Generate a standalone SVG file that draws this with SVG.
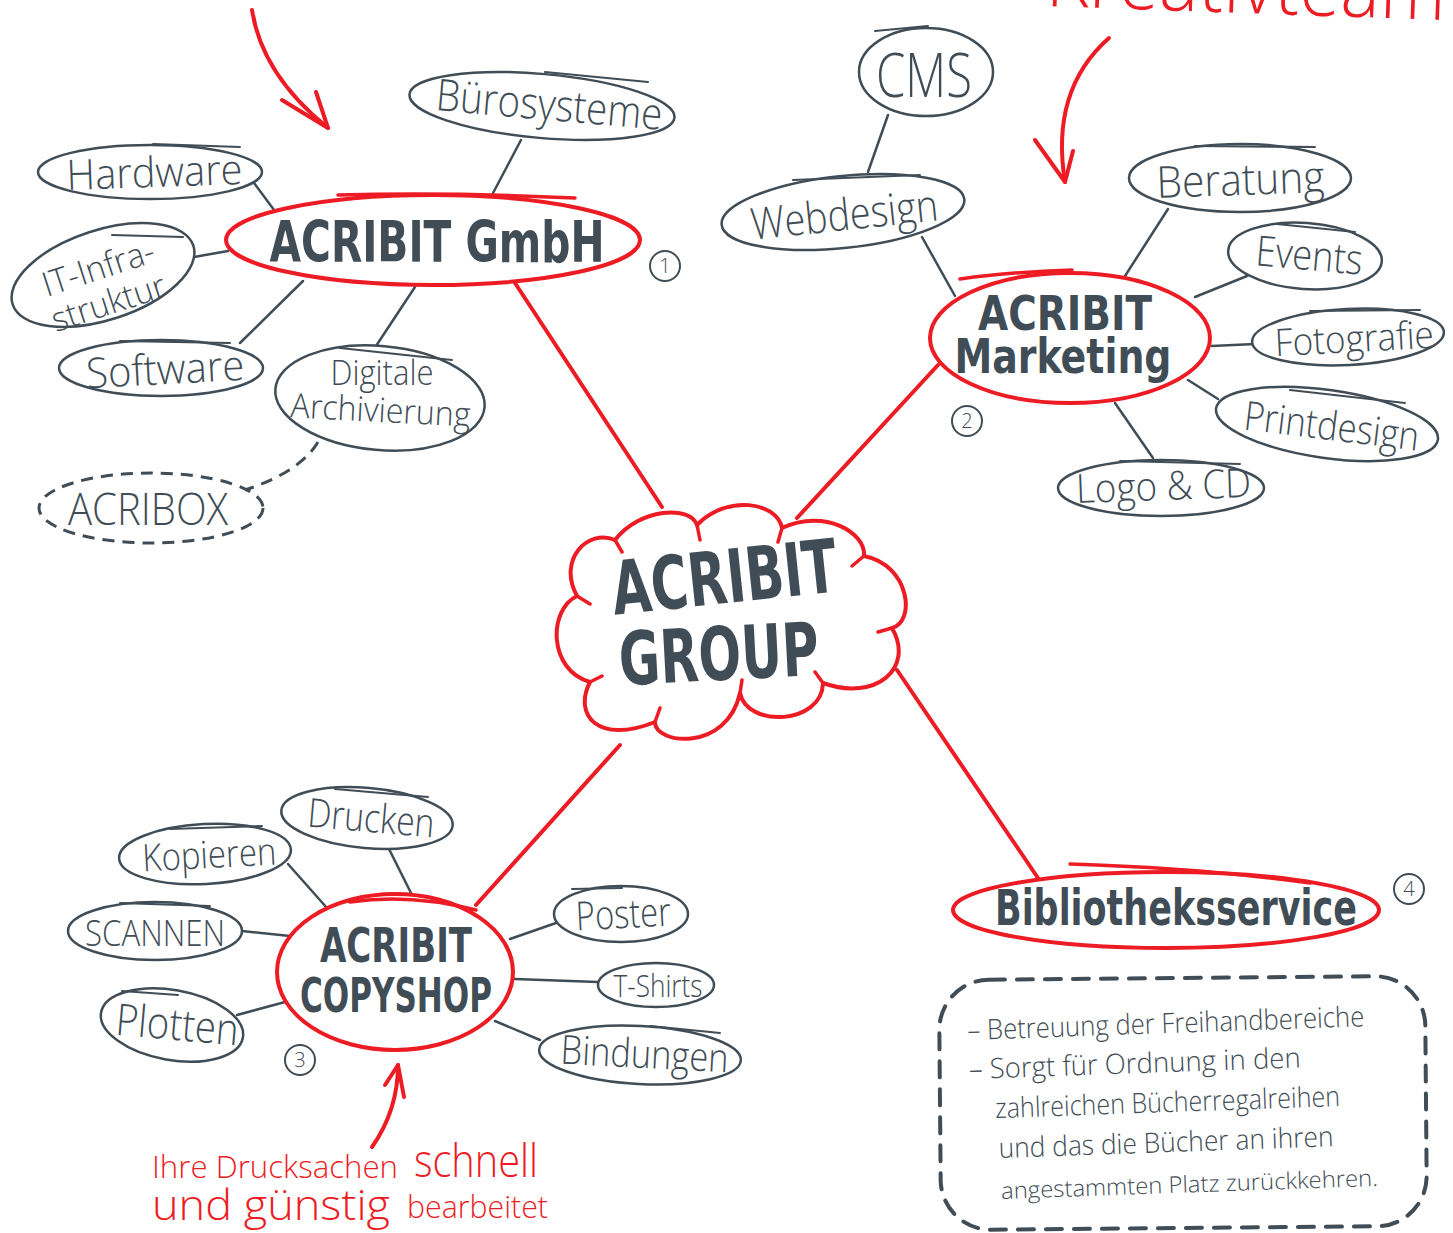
<svg xmlns="http://www.w3.org/2000/svg" width="1453" height="1233" viewBox="0 0 1453 1233">
<defs>
<style>
.bg{fill:#ffffff}
.lbl{font-family:"Open Sans","DejaVu Sans Condensed","Liberation Sans",sans-serif;font-weight:300;fill:#414d56;text-anchor:middle}
.bold{font-family:"Liberation Sans Narrow","DejaVu Sans Condensed","Liberation Sans",sans-serif;font-weight:bold;fill:#414d56;text-anchor:middle}
.red{font-family:"Open Sans","DejaVu Sans Condensed","Liberation Sans",sans-serif;font-weight:300;fill:#ed1c24}
.box{fill:#ffffff;stroke:#414d56;stroke-width:2.5}
.dash{fill:none;stroke:#414d56;stroke-width:3;stroke-dasharray:12 8}
.rbox{fill:#ffffff;stroke:#ed1c24;stroke-width:4}
.ln{fill:none;stroke:#414d56;stroke-width:2.5;stroke-linecap:round}
.rln{fill:none;stroke:#ed1c24;stroke-width:4;stroke-linecap:round}
.arr{fill:none;stroke:#ed1c24;stroke-width:4;stroke-linecap:round;stroke-linejoin:round}
.num{fill:none;stroke:#414d56;stroke-width:2}
.numt{font-family:"Open Sans","DejaVu Sans Condensed",sans-serif;font-weight:300;font-size:20px;fill:#414d56;text-anchor:middle}
.sk{fill:none;stroke:#414d56;stroke-width:2;stroke-linecap:round}
.rsk{fill:none;stroke:#ed1c24;stroke-width:3.5;stroke-linecap:round}
</style>
</defs>
<rect class="bg" x="0" y="0" width="1453" height="1233"/>

<g id="connectors">
  <line class="rln" x1="515" y1="283" x2="662" y2="507"/>
  <line class="rln" x1="938" y1="365" x2="797" y2="518"/>
  <line class="rln" x1="476" y1="905" x2="620" y2="745"/>
  <line class="rln" x1="897" y1="670" x2="1038" y2="878"/>
  <line class="ln" x1="521" y1="140" x2="492" y2="195"/>
  <line class="ln" x1="254" y1="183" x2="280" y2="218"/>
  <line class="ln" x1="194" y1="257" x2="228" y2="251"/>
  <line class="ln" x1="240" y1="343" x2="303" y2="281"/>
  <line class="ln" x1="376" y1="346" x2="415" y2="287"/>
  <path class="dash" d="M318,442 Q300,472 245,490"/>
  <line class="ln" x1="888" y1="115" x2="868" y2="172"/>
  <line class="ln" x1="922" y1="237" x2="955" y2="296"/>
  <line class="ln" x1="1168" y1="209" x2="1125" y2="276"/>
  <line class="ln" x1="1247" y1="276" x2="1195" y2="297"/>
  <line class="ln" x1="1255" y1="344" x2="1212" y2="346"/>
  <line class="ln" x1="1218" y1="399" x2="1188" y2="380"/>
  <line class="ln" x1="1153" y1="458" x2="1115" y2="403"/>
  <line class="ln" x1="389" y1="849" x2="412" y2="895"/>
  <line class="ln" x1="288" y1="864" x2="327" y2="908"/>
  <line class="ln" x1="242" y1="931" x2="290" y2="936"/>
  <line class="ln" x1="237" y1="1015" x2="285" y2="1002"/>
  <line class="ln" x1="556" y1="923" x2="510" y2="939"/>
  <line class="ln" x1="598" y1="982" x2="515" y2="979"/>
  <line class="ln" x1="540" y1="1040" x2="495" y2="1021"/>
</g>

<g id="annotations">
  <text class="red" x="1445" y="20" font-size="80" font-weight="600" text-anchor="end" transform="rotate(2 1445 20)" textLength="400" lengthAdjust="spacingAndGlyphs">Kreativteam</text>
  <path class="arr" d="M252,10 Q262,75 328,128"/>
  <path class="arr" d="M282,100 L328,128 L316,92"/>
  <path class="arr" d="M1109,38 Q1050,90 1065,182"/>
  <path class="arr" d="M1035,140 L1065,182 L1073,151"/>
  <path class="arr" d="M372,1147 Q398,1110 398,1065"/>
  <path class="arr" d="M385,1085 L398,1065 L404,1097"/>
  <text class="red" x="152" y="1178" font-size="32" textLength="246" lengthAdjust="spacingAndGlyphs">Ihre Drucksachen</text>
  <text class="red" x="414" y="1177" font-size="46" textLength="124" lengthAdjust="spacingAndGlyphs">schnell</text>
  <text class="red" x="152" y="1220" font-size="42" textLength="238" lengthAdjust="spacingAndGlyphs">und günstig</text>
  <text class="red" x="407" y="1218" font-size="32" textLength="141" lengthAdjust="spacingAndGlyphs">bearbeitet</text>
</g>

<g id="group">
  <path class="rbox" stroke-width="6" stroke-linejoin="round" d="M615,540 C640,508 690,505 697,525 C727,494 777,502 782,528 C825,508 866,533 864,556 C910,565 916,622 892,628 C915,668 876,702 823,683 C822,725 747,728 740,693 C727,752 655,745 655,722 C598,745 573,715 590,682 C548,670 548,610 577,596 C557,560 588,528 615,540 Z"/>
  <path class="rsk" stroke-width="5" d="M697,525 L700,540 M782,528 L778,542 M864,556 L852,566 M892,628 L878,632 M823,683 L815,672 M740,693 L742,680 M655,722 L660,708 M590,682 L602,676 M577,596 L590,604 M615,540 L622,552"/>
  <text class="bold" x="727" y="603" font-size="74" textLength="226" lengthAdjust="spacingAndGlyphs" transform="rotate(-6 727 603)">ACRIBIT</text>
  <text class="bold" x="720" y="680" font-size="74" textLength="200" lengthAdjust="spacingAndGlyphs" transform="rotate(-3 720 680)">GROUP</text>
</g>

<g id="gmbh">
  <ellipse class="rbox" cx="433" cy="240" rx="207" ry="45"/>
  <path class="rsk" d="M338,195 Q450,192 575,198"/>
  <text class="bold" x="0" y="0" font-size="46" textLength="335" lengthAdjust="spacingAndGlyphs" transform="translate(437 262) scale(1 1.22)">ACRIBIT GmbH</text>
  <circle class="num" cx="665" cy="266" r="15"/>
  <text class="numt" x="665" y="273">1</text>
</g>

<g id="buerosysteme">
  <ellipse class="box" cx="542" cy="106" rx="133" ry="32" transform="rotate(5 542 106)"/>
  <path class="sk" d="M545,72 L648,82"/>
  <text class="lbl" x="548" y="120" font-size="44" textLength="227" lengthAdjust="spacingAndGlyphs" transform="rotate(5 548 120)">Bürosysteme</text>
</g>
<g id="hardware">
  <ellipse class="box" cx="150" cy="172" rx="112" ry="27"/>
  <path class="sk" d="M153,144 L240,147"/>
  <text class="lbl" x="155" y="187" font-size="42" textLength="176" lengthAdjust="spacingAndGlyphs" transform="rotate(-2 155 187)">Hardware</text>
</g>
<g id="itinfra">
  <ellipse class="box" cx="103" cy="275" rx="95" ry="45" transform="rotate(-18 103 275)"/>
  <path class="sk" d="M112,235 L183,237"/>
  <text class="lbl" x="102" y="279" font-size="34" textLength="116" lengthAdjust="spacingAndGlyphs" transform="rotate(-18 102 279)">IT-Infra-</text>
  <text class="lbl" x="112" y="314" font-size="34" textLength="118" lengthAdjust="spacingAndGlyphs" transform="rotate(-18 112 314)">struktur</text>
</g>
<g id="software">
  <ellipse class="box" cx="161" cy="368" rx="102" ry="28"/>
  <path class="sk" d="M120,341 L230,343"/>
  <text class="lbl" x="166" y="384" font-size="42" textLength="158" lengthAdjust="spacingAndGlyphs" transform="rotate(-3 166 384)">Software</text>
</g>
<g id="digitale">
  <ellipse class="box" cx="380" cy="398" rx="105" ry="52" transform="rotate(5 380 398)"/>
  <path class="sk" d="M340,348 L452,360"/>
  <text class="lbl" x="382" y="385" font-size="34" textLength="103" lengthAdjust="spacingAndGlyphs">Digitale</text>
  <text class="lbl" x="380" y="422" font-size="34" textLength="180" lengthAdjust="spacingAndGlyphs" transform="rotate(3 380 422)">Archivierung</text>
</g>
<g id="acribox">
  <ellipse class="dash" cx="151" cy="508" rx="112" ry="35"/>
  <text class="lbl" x="148" y="525" font-size="44" textLength="160" lengthAdjust="spacingAndGlyphs">ACRIBOX</text>
</g>

<g id="marketing">
  <ellipse class="rbox" cx="1070" cy="338" rx="140" ry="65"/>
  <path class="rsk" d="M960,279 Q1010,272 1072,270"/>
  <text class="bold" x="0" y="0" font-size="40" textLength="174" lengthAdjust="spacingAndGlyphs" transform="translate(1065 330) scale(1 1.22)">ACRIBIT</text>
  <text class="bold" x="0" y="0" font-size="40" textLength="217" lengthAdjust="spacingAndGlyphs" transform="translate(1063 373) scale(1 1.22)">Marketing</text>
  <circle class="num" cx="967" cy="421" r="15"/>
  <text class="numt" x="967" y="428">2</text>
</g>
<g id="cms">
  <ellipse class="box" cx="926" cy="72" rx="67" ry="44"/>
  <path class="sk" d="M875,31 L928,26"/>
  <text class="lbl" x="924" y="97" font-size="60" textLength="96" lengthAdjust="spacingAndGlyphs">CMS</text>
</g>
<g id="webdesign">
  <ellipse class="box" cx="843" cy="212" rx="122" ry="36" transform="rotate(-6 843 212)"/>
  <path class="sk" d="M793,180 L920,175"/>
  <text class="lbl" x="846" y="230" font-size="44" textLength="188" lengthAdjust="spacingAndGlyphs" transform="rotate(-6 846 230)">Webdesign</text>
</g>
<g id="beratung">
  <ellipse class="box" cx="1240" cy="178" rx="111" ry="34"/>
  <path class="sk" d="M1195,146 L1315,147"/>
  <text class="lbl" x="1241" y="195" font-size="44" textLength="168" lengthAdjust="spacingAndGlyphs" transform="rotate(-2 1241 195)">Beratung</text>
</g>
<g id="events">
  <ellipse class="box" cx="1305" cy="256" rx="77" ry="33" transform="rotate(4 1305 256)"/>
  <path class="sk" d="M1277,224 L1355,232"/>
  <text class="lbl" x="1308" y="270" font-size="42" textLength="107" lengthAdjust="spacingAndGlyphs" transform="rotate(5 1308 270)">Events</text>
</g>
<g id="fotografie">
  <ellipse class="box" cx="1348" cy="337" rx="96" ry="28" transform="rotate(-3 1348 337)"/>
  <path class="sk" d="M1310,311 L1420,310"/>
  <text class="lbl" x="1355" y="352" font-size="38" textLength="159" lengthAdjust="spacingAndGlyphs" transform="rotate(-3 1355 352)">Fotografie</text>
</g>
<g id="printdesign">
  <ellipse class="box" cx="1327" cy="424" rx="112" ry="34" transform="rotate(8 1327 424)"/>
  <path class="sk" d="M1290,390 L1405,403"/>
  <text class="lbl" x="1330" y="440" font-size="40" textLength="176" lengthAdjust="spacingAndGlyphs" transform="rotate(7 1330 440)">Printdesign</text>
</g>
<g id="logo">
  <ellipse class="box" cx="1161" cy="488" rx="103" ry="28"/>
  <path class="sk" d="M1120,461 L1240,464"/>
  <text class="lbl" x="1164" y="500" font-size="40" textLength="175" lengthAdjust="spacingAndGlyphs" transform="rotate(-2 1164 500)">Logo &amp; CD</text>
</g>

<g id="copyshop">
  <ellipse class="rbox" cx="395" cy="972" rx="118" ry="78"/>
  <path class="rsk" d="M350,902 Q410,893 476,910"/>
  <text class="bold" x="0" y="0" font-size="40" textLength="152" lengthAdjust="spacingAndGlyphs" transform="translate(396 962) scale(1 1.2)">ACRIBIT</text>
  <text class="bold" x="0" y="0" font-size="40" textLength="192" lengthAdjust="spacingAndGlyphs" transform="translate(396 1012) scale(1 1.2)">COPYSHOP</text>
  <circle class="num" cx="300" cy="1060" r="15"/>
  <text class="numt" x="300" y="1067">3</text>
</g>
<g id="drucken">
  <ellipse class="box" cx="367" cy="818" rx="86" ry="30" transform="rotate(5 367 818)"/>
  <path class="sk" d="M335,789 L428,797"/>
  <text class="lbl" x="370" y="832" font-size="40" textLength="127" lengthAdjust="spacingAndGlyphs" transform="rotate(5 370 832)">Drucken</text>
</g>
<g id="kopieren">
  <ellipse class="box" cx="205" cy="854" rx="86" ry="30" transform="rotate(-3 205 854)"/>
  <path class="sk" d="M170,829 L262,826"/>
  <text class="lbl" x="210" y="868" font-size="38" textLength="134" lengthAdjust="spacingAndGlyphs" transform="rotate(-3 210 868)">Kopieren</text>
</g>
<g id="scannen">
  <ellipse class="box" cx="155" cy="931" rx="87" ry="29"/>
  <path class="sk" d="M120,903 L210,906"/>
  <text class="lbl" x="155" y="946" font-size="36" textLength="140" lengthAdjust="spacingAndGlyphs">SCANNEN</text>
</g>
<g id="plotten">
  <ellipse class="box" cx="172" cy="1025" rx="72" ry="35" transform="rotate(10 172 1025)"/>
  <path class="sk" d="M122,991 L178,995"/>
  <text class="lbl" x="176" y="1040" font-size="44" textLength="123" lengthAdjust="spacingAndGlyphs" transform="rotate(5 176 1040)">Plotten</text>
</g>
<g id="poster">
  <ellipse class="box" cx="621" cy="914" rx="67" ry="28"/>
  <path class="sk" d="M572,889 L622,888"/>
  <text class="lbl" x="624" y="928" font-size="40" textLength="95" lengthAdjust="spacingAndGlyphs" transform="rotate(-3 624 928)">Poster</text>
</g>
<g id="tshirts">
  <ellipse class="box" cx="656" cy="985" rx="58" ry="22"/>
  <text class="lbl" x="658" y="997" font-size="32" textLength="89" lengthAdjust="spacingAndGlyphs">T-Shirts</text>
</g>
<g id="bindungen">
  <ellipse class="box" cx="640" cy="1055" rx="101" ry="29" transform="rotate(3 640 1055)"/>
  <path class="sk" d="M650,1026 L720,1033"/>
  <text class="lbl" x="644" y="1068" font-size="40" textLength="168" lengthAdjust="spacingAndGlyphs" transform="rotate(3 644 1068)">Bindungen</text>
</g>

<g id="bibliotheksservice">
  <ellipse class="rbox" cx="1166" cy="910" rx="213" ry="38"/>
  <path class="rsk" d="M1070,864 Q1200,868 1310,883"/>
  <text class="bold" x="0" y="0" font-size="40" textLength="362" lengthAdjust="spacingAndGlyphs" transform="translate(1176 925) scale(1 1.25)">Bibliotheksservice</text>
  <circle class="num" cx="1409" cy="889" r="15"/>
  <text class="numt" x="1409" y="896">4</text>
</g>

<g id="bibliothek-info">
  <rect x="940" y="978" width="486" height="250" rx="50" ry="50" fill="none" stroke="#414d56" stroke-width="4" stroke-dasharray="16 12" stroke-linecap="round" transform="rotate(-0.5 1183 1103)"/>
  <g transform="rotate(-2 1170 1100)">
    <text class="lbl" style="text-anchor:start" x="970" y="1033" font-size="28" textLength="397" lengthAdjust="spacingAndGlyphs">– Betreuung der Freihandbereiche</text>
    <text class="lbl" style="text-anchor:start" x="970" y="1072" font-size="28" textLength="332" lengthAdjust="spacingAndGlyphs">– Sorgt für Ordnung in den</text>
    <text class="lbl" style="text-anchor:start" x="995" y="1112" font-size="28" textLength="345" lengthAdjust="spacingAndGlyphs">zahlreichen Bücherregalreihen</text>
    <text class="lbl" style="text-anchor:start" x="997" y="1152" font-size="28" textLength="335" lengthAdjust="spacingAndGlyphs">und das die Bücher an ihren</text>
    <text class="lbl" style="text-anchor:start" x="998" y="1193" font-size="23" textLength="377" lengthAdjust="spacingAndGlyphs">angestammten Platz zurückkehren.</text>
  </g>
</g>
</svg>
